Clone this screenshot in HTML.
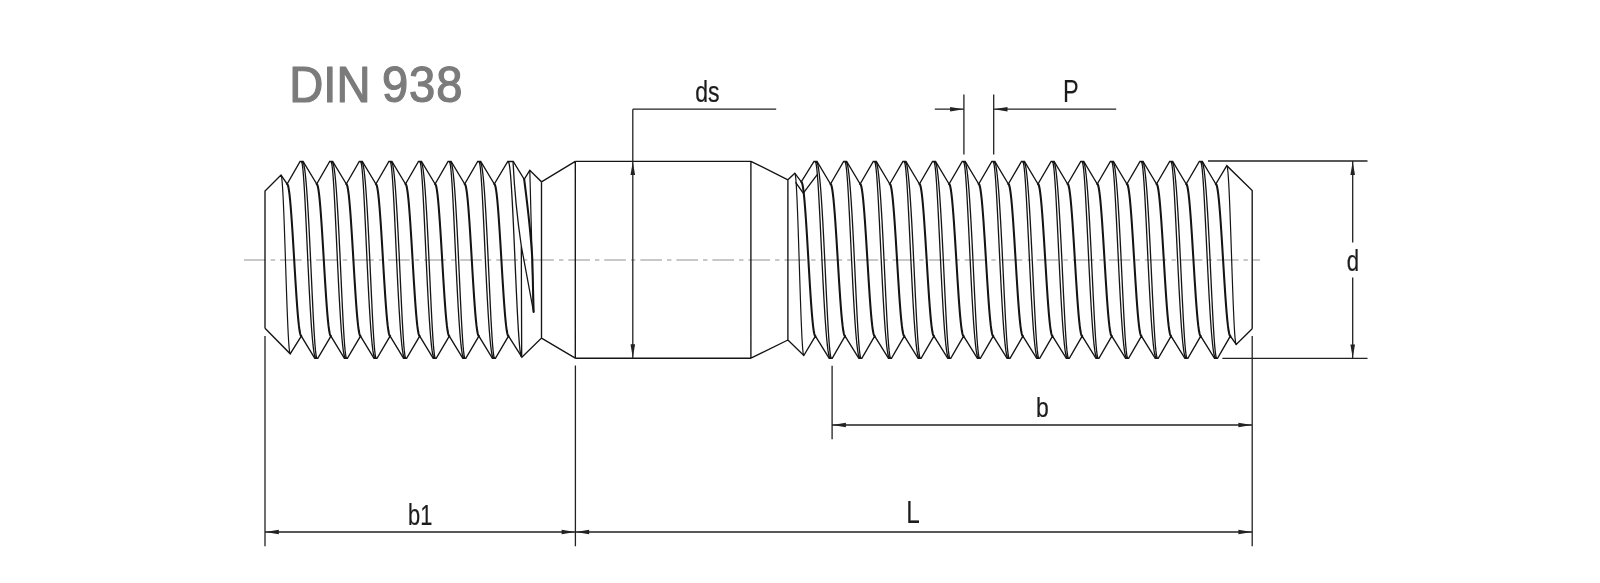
<!DOCTYPE html>
<html lang="en"><head><meta charset="utf-8"><title>DIN 938</title>
<style>
html,body{margin:0;padding:0;background:#fff;}
body{width:1600px;height:583px;overflow:hidden;}
svg{display:block;font-family:"Liberation Sans",sans-serif;will-change:transform;}
</style></head><body>
<svg width="1600" height="583" viewBox="0 0 1600 583">
<rect width="1600" height="583" fill="#ffffff"/>
<path d="M244 260.0 H1259.9" stroke="#b6b6b6" stroke-width="1.5" fill="none" stroke-dasharray="21.7 5 4.4 4.93"/>
<g fill="none" stroke="#141414" stroke-linejoin="miter" stroke-linecap="butt">
<path stroke-width="1.3" d="M301.40 161.80 L301.90 162.64 L302.39 165.14 L302.89 169.27 L303.40 174.95 L303.91 182.08 L304.43 190.55 L304.97 200.20 L305.51 210.88 L306.06 222.39 L306.63 234.55 L307.21 247.14 L307.80 259.95 L308.41 272.76 L309.03 285.35 L309.66 297.51 L310.31 309.02 L310.97 319.70 L311.63 329.35 L312.31 337.82 L313.00 344.95 L313.69 350.63 L314.39 354.76 L315.10 357.26 L315.80 358.10 M302.60 161.80 L303.30 162.64 L304.01 165.14 L304.71 169.27 L305.40 174.95 L306.09 182.08 L306.77 190.55 L307.43 200.20 L308.09 210.88 L308.74 222.39 L309.37 234.55 L309.99 247.14 L310.60 259.95 L311.19 272.76 L311.77 285.35 L312.34 297.51 L312.89 309.02 L313.43 319.70 L313.97 329.35 L314.49 337.82 L315.00 344.95 L315.51 350.63 L316.01 354.76 L316.50 357.26 L317.00 358.10 M331.00 161.80 L331.50 162.64 L331.99 165.14 L332.49 169.27 L333.00 174.95 L333.51 182.08 L334.03 190.55 L334.57 200.20 L335.11 210.88 L335.66 222.39 L336.23 234.55 L336.81 247.14 L337.40 259.95 L338.01 272.76 L338.63 285.35 L339.26 297.51 L339.91 309.02 L340.57 319.70 L341.23 329.35 L341.91 337.82 L342.60 344.95 L343.29 350.63 L343.99 354.76 L344.70 357.26 L345.40 358.10 M332.20 161.80 L332.90 162.64 L333.61 165.14 L334.31 169.27 L335.00 174.95 L335.69 182.08 L336.37 190.55 L337.03 200.20 L337.69 210.88 L338.34 222.39 L338.97 234.55 L339.59 247.14 L340.20 259.95 L340.79 272.76 L341.37 285.35 L341.94 297.51 L342.49 309.02 L343.03 319.70 L343.57 329.35 L344.09 337.82 L344.60 344.95 L345.11 350.63 L345.61 354.76 L346.10 357.26 L346.60 358.10 M360.60 161.80 L361.10 162.64 L361.59 165.14 L362.09 169.27 L362.60 174.95 L363.11 182.08 L363.63 190.55 L364.17 200.20 L364.71 210.88 L365.26 222.39 L365.83 234.55 L366.41 247.14 L367.00 259.95 L367.61 272.76 L368.23 285.35 L368.86 297.51 L369.51 309.02 L370.17 319.70 L370.83 329.35 L371.51 337.82 L372.20 344.95 L372.89 350.63 L373.59 354.76 L374.30 357.26 L375.00 358.10 M361.80 161.80 L362.50 162.64 L363.21 165.14 L363.91 169.27 L364.60 174.95 L365.29 182.08 L365.97 190.55 L366.63 200.20 L367.29 210.88 L367.94 222.39 L368.57 234.55 L369.19 247.14 L369.80 259.95 L370.39 272.76 L370.97 285.35 L371.54 297.51 L372.09 309.02 L372.63 319.70 L373.17 329.35 L373.69 337.82 L374.20 344.95 L374.71 350.63 L375.21 354.76 L375.70 357.26 L376.20 358.10 M390.20 161.80 L390.70 162.64 L391.19 165.14 L391.69 169.27 L392.20 174.95 L392.71 182.08 L393.23 190.55 L393.77 200.20 L394.31 210.88 L394.86 222.39 L395.43 234.55 L396.01 247.14 L396.60 259.95 L397.21 272.76 L397.83 285.35 L398.46 297.51 L399.11 309.02 L399.77 319.70 L400.43 329.35 L401.11 337.82 L401.80 344.95 L402.49 350.63 L403.19 354.76 L403.90 357.26 L404.60 358.10 M391.40 161.80 L392.10 162.64 L392.81 165.14 L393.51 169.27 L394.20 174.95 L394.89 182.08 L395.57 190.55 L396.23 200.20 L396.89 210.88 L397.54 222.39 L398.17 234.55 L398.79 247.14 L399.40 259.95 L399.99 272.76 L400.57 285.35 L401.14 297.51 L401.69 309.02 L402.23 319.70 L402.77 329.35 L403.29 337.82 L403.80 344.95 L404.31 350.63 L404.81 354.76 L405.30 357.26 L405.80 358.10 M419.80 161.80 L420.30 162.64 L420.79 165.14 L421.29 169.27 L421.80 174.95 L422.31 182.08 L422.83 190.55 L423.37 200.20 L423.91 210.88 L424.46 222.39 L425.03 234.55 L425.61 247.14 L426.20 259.95 L426.81 272.76 L427.43 285.35 L428.06 297.51 L428.71 309.02 L429.37 319.70 L430.03 329.35 L430.71 337.82 L431.40 344.95 L432.09 350.63 L432.79 354.76 L433.50 357.26 L434.20 358.10 M421.00 161.80 L421.70 162.64 L422.41 165.14 L423.11 169.27 L423.80 174.95 L424.49 182.08 L425.17 190.55 L425.83 200.20 L426.49 210.88 L427.14 222.39 L427.77 234.55 L428.39 247.14 L429.00 259.95 L429.59 272.76 L430.17 285.35 L430.74 297.51 L431.29 309.02 L431.83 319.70 L432.37 329.35 L432.89 337.82 L433.40 344.95 L433.91 350.63 L434.41 354.76 L434.90 357.26 L435.40 358.10 M449.40 161.80 L449.90 162.64 L450.39 165.14 L450.89 169.27 L451.40 174.95 L451.91 182.08 L452.43 190.55 L452.97 200.20 L453.51 210.88 L454.06 222.39 L454.63 234.55 L455.21 247.14 L455.80 259.95 L456.41 272.76 L457.03 285.35 L457.66 297.51 L458.31 309.02 L458.97 319.70 L459.63 329.35 L460.31 337.82 L461.00 344.95 L461.69 350.63 L462.39 354.76 L463.10 357.26 L463.80 358.10 M450.60 161.80 L451.30 162.64 L452.01 165.14 L452.71 169.27 L453.40 174.95 L454.09 182.08 L454.77 190.55 L455.43 200.20 L456.09 210.88 L456.74 222.39 L457.37 234.55 L457.99 247.14 L458.60 259.95 L459.19 272.76 L459.77 285.35 L460.34 297.51 L460.89 309.02 L461.43 319.70 L461.97 329.35 L462.49 337.82 L463.00 344.95 L463.51 350.63 L464.01 354.76 L464.50 357.26 L465.00 358.10 M479.00 161.80 L479.50 162.64 L479.99 165.14 L480.49 169.27 L481.00 174.95 L481.51 182.08 L482.03 190.55 L482.57 200.20 L483.11 210.88 L483.66 222.39 L484.23 234.55 L484.81 247.14 L485.40 259.95 L486.01 272.76 L486.63 285.35 L487.26 297.51 L487.91 309.02 L488.57 319.70 L489.23 329.35 L489.91 337.82 L490.60 344.95 L491.29 350.63 L491.99 354.76 L492.70 357.26 L493.40 358.10 M480.20 161.80 L480.90 162.64 L481.61 165.14 L482.31 169.27 L483.00 174.95 L483.69 182.08 L484.37 190.55 L485.03 200.20 L485.69 210.88 L486.34 222.39 L486.97 234.55 L487.59 247.14 L488.20 259.95 L488.79 272.76 L489.37 285.35 L489.94 297.51 L490.49 309.02 L491.03 319.70 L491.57 329.35 L492.09 337.82 L492.60 344.95 L493.11 350.63 L493.61 354.76 L494.10 357.26 L494.60 358.10 M508.30 161.80 L508.85 162.63 L509.41 165.13 L509.96 169.23 L510.52 174.88 L511.07 181.97 L511.62 190.39 L512.18 199.98 L512.73 210.60 L513.29 222.05 L513.84 234.14 L514.40 246.66 L514.95 259.40 L515.50 272.14 L516.06 284.66 L516.61 296.75 L517.17 308.20 L517.72 318.82 L518.27 328.41 L518.83 336.83 L519.38 343.92 L519.94 349.57 L520.49 353.67 L521.05 356.17 L521.60 357.00 M521.3 246 L521.7 357 M513.0 161.5 Q515.2 205 521.3 246 L533.6 312 M815.30 161.80 L815.82 162.64 L816.33 165.14 L816.86 169.27 L817.38 174.95 L817.92 182.08 L818.46 190.55 L819.01 200.20 L819.57 210.88 L820.15 222.39 L820.74 234.55 L821.34 247.14 L821.95 259.95 L822.58 272.76 L823.22 285.35 L823.87 297.51 L824.54 309.02 L825.22 319.70 L825.91 329.35 L826.61 337.82 L827.32 344.95 L828.03 350.63 L828.75 354.76 L829.47 357.26 L830.20 358.10 M816.50 161.80 L817.23 162.64 L817.95 165.14 L818.67 169.27 L819.38 174.95 L820.09 182.08 L820.79 190.55 L821.48 200.20 L822.16 210.88 L822.83 222.39 L823.48 234.55 L824.12 247.14 L824.75 259.95 L825.36 272.76 L825.96 285.35 L826.55 297.51 L827.13 309.02 L827.69 319.70 L828.24 329.35 L828.78 337.82 L829.32 344.95 L829.84 350.63 L830.37 354.76 L830.88 357.26 L831.40 358.10 M844.94 161.80 L845.46 162.64 L845.97 165.14 L846.50 169.27 L847.02 174.95 L847.56 182.08 L848.10 190.55 L848.65 200.20 L849.21 210.88 L849.79 222.39 L850.38 234.55 L850.98 247.14 L851.59 259.95 L852.22 272.76 L852.86 285.35 L853.51 297.51 L854.18 309.02 L854.86 319.70 L855.55 329.35 L856.25 337.82 L856.96 344.95 L857.67 350.63 L858.39 354.76 L859.11 357.26 L859.84 358.10 M846.14 161.80 L846.87 162.64 L847.59 165.14 L848.31 169.27 L849.02 174.95 L849.73 182.08 L850.43 190.55 L851.12 200.20 L851.80 210.88 L852.47 222.39 L853.12 234.55 L853.76 247.14 L854.39 259.95 L855.00 272.76 L855.60 285.35 L856.19 297.51 L856.77 309.02 L857.33 319.70 L857.88 329.35 L858.42 337.82 L858.96 344.95 L859.48 350.63 L860.01 354.76 L860.52 357.26 L861.04 358.10 M874.58 161.80 L875.10 162.64 L875.61 165.14 L876.14 169.27 L876.66 174.95 L877.20 182.08 L877.74 190.55 L878.29 200.20 L878.85 210.88 L879.43 222.39 L880.02 234.55 L880.62 247.14 L881.23 259.95 L881.86 272.76 L882.50 285.35 L883.15 297.51 L883.82 309.02 L884.50 319.70 L885.19 329.35 L885.89 337.82 L886.60 344.95 L887.31 350.63 L888.03 354.76 L888.75 357.26 L889.48 358.10 M875.78 161.80 L876.51 162.64 L877.23 165.14 L877.95 169.27 L878.66 174.95 L879.37 182.08 L880.07 190.55 L880.76 200.20 L881.44 210.88 L882.11 222.39 L882.76 234.55 L883.40 247.14 L884.03 259.95 L884.64 272.76 L885.24 285.35 L885.83 297.51 L886.41 309.02 L886.97 319.70 L887.52 329.35 L888.06 337.82 L888.60 344.95 L889.12 350.63 L889.65 354.76 L890.16 357.26 L890.68 358.10 M904.22 161.80 L904.74 162.64 L905.25 165.14 L905.78 169.27 L906.30 174.95 L906.84 182.08 L907.38 190.55 L907.93 200.20 L908.49 210.88 L909.07 222.39 L909.66 234.55 L910.26 247.14 L910.87 259.95 L911.50 272.76 L912.14 285.35 L912.79 297.51 L913.46 309.02 L914.14 319.70 L914.83 329.35 L915.53 337.82 L916.24 344.95 L916.95 350.63 L917.67 354.76 L918.39 357.26 L919.12 358.10 M905.42 161.80 L906.15 162.64 L906.87 165.14 L907.59 169.27 L908.30 174.95 L909.01 182.08 L909.71 190.55 L910.40 200.20 L911.08 210.88 L911.75 222.39 L912.40 234.55 L913.04 247.14 L913.67 259.95 L914.28 272.76 L914.88 285.35 L915.47 297.51 L916.05 309.02 L916.61 319.70 L917.16 329.35 L917.70 337.82 L918.24 344.95 L918.76 350.63 L919.29 354.76 L919.80 357.26 L920.32 358.10 M933.86 161.80 L934.38 162.64 L934.89 165.14 L935.42 169.27 L935.94 174.95 L936.48 182.08 L937.02 190.55 L937.57 200.20 L938.13 210.88 L938.71 222.39 L939.30 234.55 L939.90 247.14 L940.51 259.95 L941.14 272.76 L941.78 285.35 L942.43 297.51 L943.10 309.02 L943.78 319.70 L944.47 329.35 L945.17 337.82 L945.88 344.95 L946.59 350.63 L947.31 354.76 L948.03 357.26 L948.76 358.10 M935.06 161.80 L935.79 162.64 L936.51 165.14 L937.23 169.27 L937.94 174.95 L938.65 182.08 L939.35 190.55 L940.04 200.20 L940.72 210.88 L941.39 222.39 L942.04 234.55 L942.68 247.14 L943.31 259.95 L943.92 272.76 L944.52 285.35 L945.11 297.51 L945.69 309.02 L946.25 319.70 L946.80 329.35 L947.34 337.82 L947.88 344.95 L948.40 350.63 L948.93 354.76 L949.44 357.26 L949.96 358.10 M963.50 161.80 L964.02 162.64 L964.53 165.14 L965.06 169.27 L965.58 174.95 L966.12 182.08 L966.66 190.55 L967.21 200.20 L967.77 210.88 L968.35 222.39 L968.94 234.55 L969.54 247.14 L970.15 259.95 L970.78 272.76 L971.42 285.35 L972.07 297.51 L972.74 309.02 L973.42 319.70 L974.11 329.35 L974.81 337.82 L975.52 344.95 L976.23 350.63 L976.95 354.76 L977.67 357.26 L978.40 358.10 M964.70 161.80 L965.43 162.64 L966.15 165.14 L966.87 169.27 L967.58 174.95 L968.29 182.08 L968.99 190.55 L969.68 200.20 L970.36 210.88 L971.03 222.39 L971.68 234.55 L972.32 247.14 L972.95 259.95 L973.56 272.76 L974.16 285.35 L974.75 297.51 L975.33 309.02 L975.89 319.70 L976.44 329.35 L976.98 337.82 L977.52 344.95 L978.04 350.63 L978.57 354.76 L979.08 357.26 L979.60 358.10 M993.14 161.80 L993.66 162.64 L994.17 165.14 L994.70 169.27 L995.22 174.95 L995.76 182.08 L996.30 190.55 L996.85 200.20 L997.41 210.88 L997.99 222.39 L998.58 234.55 L999.18 247.14 L999.79 259.95 L1000.42 272.76 L1001.06 285.35 L1001.71 297.51 L1002.38 309.02 L1003.06 319.70 L1003.75 329.35 L1004.45 337.82 L1005.16 344.95 L1005.87 350.63 L1006.59 354.76 L1007.31 357.26 L1008.04 358.10 M994.34 161.80 L995.07 162.64 L995.79 165.14 L996.51 169.27 L997.22 174.95 L997.93 182.08 L998.63 190.55 L999.32 200.20 L1000.00 210.88 L1000.67 222.39 L1001.32 234.55 L1001.96 247.14 L1002.59 259.95 L1003.20 272.76 L1003.80 285.35 L1004.39 297.51 L1004.97 309.02 L1005.53 319.70 L1006.08 329.35 L1006.62 337.82 L1007.16 344.95 L1007.68 350.63 L1008.21 354.76 L1008.72 357.26 L1009.24 358.10 M1022.78 161.80 L1023.30 162.64 L1023.81 165.14 L1024.34 169.27 L1024.86 174.95 L1025.40 182.08 L1025.94 190.55 L1026.49 200.20 L1027.05 210.88 L1027.63 222.39 L1028.22 234.55 L1028.82 247.14 L1029.43 259.95 L1030.06 272.76 L1030.70 285.35 L1031.35 297.51 L1032.02 309.02 L1032.70 319.70 L1033.39 329.35 L1034.09 337.82 L1034.80 344.95 L1035.51 350.63 L1036.23 354.76 L1036.95 357.26 L1037.68 358.10 M1023.98 161.80 L1024.71 162.64 L1025.43 165.14 L1026.15 169.27 L1026.86 174.95 L1027.57 182.08 L1028.27 190.55 L1028.96 200.20 L1029.64 210.88 L1030.31 222.39 L1030.96 234.55 L1031.60 247.14 L1032.23 259.95 L1032.84 272.76 L1033.44 285.35 L1034.03 297.51 L1034.61 309.02 L1035.17 319.70 L1035.72 329.35 L1036.26 337.82 L1036.80 344.95 L1037.32 350.63 L1037.85 354.76 L1038.36 357.26 L1038.88 358.10 M1052.42 161.80 L1052.94 162.64 L1053.45 165.14 L1053.98 169.27 L1054.50 174.95 L1055.04 182.08 L1055.58 190.55 L1056.13 200.20 L1056.69 210.88 L1057.27 222.39 L1057.86 234.55 L1058.46 247.14 L1059.07 259.95 L1059.70 272.76 L1060.34 285.35 L1060.99 297.51 L1061.66 309.02 L1062.34 319.70 L1063.03 329.35 L1063.73 337.82 L1064.44 344.95 L1065.15 350.63 L1065.87 354.76 L1066.59 357.26 L1067.32 358.10 M1053.62 161.80 L1054.35 162.64 L1055.07 165.14 L1055.79 169.27 L1056.50 174.95 L1057.21 182.08 L1057.91 190.55 L1058.60 200.20 L1059.28 210.88 L1059.95 222.39 L1060.60 234.55 L1061.24 247.14 L1061.87 259.95 L1062.48 272.76 L1063.08 285.35 L1063.67 297.51 L1064.25 309.02 L1064.81 319.70 L1065.36 329.35 L1065.90 337.82 L1066.44 344.95 L1066.96 350.63 L1067.49 354.76 L1068.00 357.26 L1068.52 358.10 M1082.06 161.80 L1082.58 162.64 L1083.09 165.14 L1083.62 169.27 L1084.14 174.95 L1084.68 182.08 L1085.22 190.55 L1085.77 200.20 L1086.33 210.88 L1086.91 222.39 L1087.50 234.55 L1088.10 247.14 L1088.71 259.95 L1089.34 272.76 L1089.98 285.35 L1090.63 297.51 L1091.30 309.02 L1091.98 319.70 L1092.67 329.35 L1093.37 337.82 L1094.08 344.95 L1094.79 350.63 L1095.51 354.76 L1096.23 357.26 L1096.96 358.10 M1083.26 161.80 L1083.99 162.64 L1084.71 165.14 L1085.43 169.27 L1086.14 174.95 L1086.85 182.08 L1087.55 190.55 L1088.24 200.20 L1088.92 210.88 L1089.59 222.39 L1090.24 234.55 L1090.88 247.14 L1091.51 259.95 L1092.12 272.76 L1092.72 285.35 L1093.31 297.51 L1093.89 309.02 L1094.45 319.70 L1095.00 329.35 L1095.54 337.82 L1096.08 344.95 L1096.60 350.63 L1097.13 354.76 L1097.64 357.26 L1098.16 358.10 M1111.70 161.80 L1112.22 162.64 L1112.73 165.14 L1113.26 169.27 L1113.78 174.95 L1114.32 182.08 L1114.86 190.55 L1115.41 200.20 L1115.97 210.88 L1116.55 222.39 L1117.14 234.55 L1117.74 247.14 L1118.35 259.95 L1118.98 272.76 L1119.62 285.35 L1120.27 297.51 L1120.94 309.02 L1121.62 319.70 L1122.31 329.35 L1123.01 337.82 L1123.72 344.95 L1124.43 350.63 L1125.15 354.76 L1125.87 357.26 L1126.60 358.10 M1112.90 161.80 L1113.63 162.64 L1114.35 165.14 L1115.07 169.27 L1115.78 174.95 L1116.49 182.08 L1117.19 190.55 L1117.88 200.20 L1118.56 210.88 L1119.23 222.39 L1119.88 234.55 L1120.52 247.14 L1121.15 259.95 L1121.76 272.76 L1122.36 285.35 L1122.95 297.51 L1123.53 309.02 L1124.09 319.70 L1124.64 329.35 L1125.18 337.82 L1125.72 344.95 L1126.24 350.63 L1126.77 354.76 L1127.28 357.26 L1127.80 358.10 M1141.34 161.80 L1141.86 162.64 L1142.37 165.14 L1142.90 169.27 L1143.42 174.95 L1143.96 182.08 L1144.50 190.55 L1145.05 200.20 L1145.61 210.88 L1146.19 222.39 L1146.78 234.55 L1147.38 247.14 L1147.99 259.95 L1148.62 272.76 L1149.26 285.35 L1149.91 297.51 L1150.58 309.02 L1151.26 319.70 L1151.95 329.35 L1152.65 337.82 L1153.36 344.95 L1154.07 350.63 L1154.79 354.76 L1155.51 357.26 L1156.24 358.10 M1142.54 161.80 L1143.27 162.64 L1143.99 165.14 L1144.71 169.27 L1145.42 174.95 L1146.13 182.08 L1146.83 190.55 L1147.52 200.20 L1148.20 210.88 L1148.87 222.39 L1149.52 234.55 L1150.16 247.14 L1150.79 259.95 L1151.40 272.76 L1152.00 285.35 L1152.59 297.51 L1153.17 309.02 L1153.73 319.70 L1154.28 329.35 L1154.82 337.82 L1155.36 344.95 L1155.88 350.63 L1156.41 354.76 L1156.92 357.26 L1157.44 358.10 M1170.98 161.80 L1171.50 162.64 L1172.01 165.14 L1172.54 169.27 L1173.06 174.95 L1173.60 182.08 L1174.14 190.55 L1174.69 200.20 L1175.25 210.88 L1175.83 222.39 L1176.42 234.55 L1177.02 247.14 L1177.63 259.95 L1178.26 272.76 L1178.90 285.35 L1179.55 297.51 L1180.22 309.02 L1180.90 319.70 L1181.59 329.35 L1182.29 337.82 L1183.00 344.95 L1183.71 350.63 L1184.43 354.76 L1185.15 357.26 L1185.88 358.10 M1172.18 161.80 L1172.91 162.64 L1173.63 165.14 L1174.35 169.27 L1175.06 174.95 L1175.77 182.08 L1176.47 190.55 L1177.16 200.20 L1177.84 210.88 L1178.51 222.39 L1179.16 234.55 L1179.80 247.14 L1180.43 259.95 L1181.04 272.76 L1181.64 285.35 L1182.23 297.51 L1182.81 309.02 L1183.37 319.70 L1183.92 329.35 L1184.46 337.82 L1185.00 344.95 L1185.52 350.63 L1186.05 354.76 L1186.56 357.26 L1187.08 358.10 M1200.62 161.80 L1201.14 162.64 L1201.65 165.14 L1202.18 169.27 L1202.70 174.95 L1203.24 182.08 L1203.78 190.55 L1204.33 200.20 L1204.89 210.88 L1205.47 222.39 L1206.06 234.55 L1206.66 247.14 L1207.27 259.95 L1207.90 272.76 L1208.54 285.35 L1209.19 297.51 L1209.86 309.02 L1210.54 319.70 L1211.23 329.35 L1211.93 337.82 L1212.64 344.95 L1213.35 350.63 L1214.07 354.76 L1214.79 357.26 L1215.52 358.10 M1201.82 161.80 L1202.55 162.64 L1203.27 165.14 L1203.99 169.27 L1204.70 174.95 L1205.41 182.08 L1206.11 190.55 L1206.80 200.20 L1207.48 210.88 L1208.15 222.39 L1208.80 234.55 L1209.44 247.14 L1210.07 259.95 L1210.68 272.76 L1211.28 285.35 L1211.87 297.51 L1212.45 309.02 L1213.01 319.70 L1213.56 329.35 L1214.10 337.82 L1214.64 344.95 L1215.16 350.63 L1215.69 354.76 L1216.20 357.26 L1216.72 358.10"/>
<path stroke-width="1.2" d="M281.00 175.10 L281.38 175.86 L281.77 178.14 L282.15 181.90 L282.53 187.07 L282.92 193.56 L283.30 201.27 L283.68 210.06 L284.07 219.77 L284.45 230.26 L284.83 241.32 L285.22 252.79 L285.60 264.45 L285.98 276.11 L286.37 287.58 L286.75 298.64 L287.13 309.12 L287.52 318.84 L287.90 327.63 L288.28 335.34 L288.67 341.83 L289.05 347.00 L289.43 350.76 L289.82 353.04 L290.20 353.80 M529.8 170.3 L532.1 258 L533.6 312 M794.80 173.20 L795.17 173.98 L795.55 176.31 L795.92 180.14 L796.30 185.41 L796.67 192.04 L797.05 199.90 L797.42 208.86 L797.80 218.78 L798.17 229.47 L798.55 240.76 L798.92 252.45 L799.30 264.35 L799.67 276.25 L800.05 287.94 L800.42 299.23 L800.80 309.93 L801.17 319.84 L801.55 328.80 L801.92 336.66 L802.30 343.29 L802.67 348.56 L803.05 352.39 L803.42 354.72 L803.80 355.50 M1226.80 165.70 L1227.19 166.46 L1227.58 168.74 L1227.97 172.50 L1228.37 177.67 L1228.76 184.16 L1229.15 191.87 L1229.54 200.66 L1229.93 210.37 L1230.33 220.86 L1230.72 231.92 L1231.11 243.39 L1231.50 255.05 L1231.89 266.71 L1232.28 278.18 L1232.67 289.24 L1233.07 299.72 L1233.46 309.44 L1233.85 318.23 L1234.24 325.94 L1234.63 332.43 L1235.03 337.60 L1235.42 341.36 L1235.81 343.64 L1236.20 344.40"/>
<path stroke-width="2.05" stroke-linecap="round" d="M287.10 184.00 L287.69 184.65 L288.28 186.59 L288.88 189.79 L289.47 194.19 L290.06 199.72 L290.65 206.27 L291.24 213.75 L291.83 222.03 L292.43 230.95 L293.02 240.37 L293.61 250.12 L294.20 260.05 L294.79 269.98 L295.38 279.73 L295.98 289.15 L296.57 298.07 L297.16 306.35 L297.75 313.83 L298.34 320.38 L298.93 325.91 L299.53 330.31 L300.12 333.51 L300.71 335.45 L301.30 336.10 M316.70 184.00 L317.29 184.65 L317.88 186.59 L318.48 189.79 L319.07 194.19 L319.66 199.72 L320.25 206.27 L320.84 213.75 L321.43 222.03 L322.03 230.95 L322.62 240.37 L323.21 250.12 L323.80 260.05 L324.39 269.98 L324.98 279.73 L325.58 289.15 L326.17 298.07 L326.76 306.35 L327.35 313.83 L327.94 320.38 L328.53 325.91 L329.13 330.31 L329.72 333.51 L330.31 335.45 L330.90 336.10 M346.30 184.00 L346.89 184.65 L347.48 186.59 L348.07 189.79 L348.67 194.19 L349.26 199.72 L349.85 206.27 L350.44 213.75 L351.03 222.03 L351.62 230.95 L352.22 240.37 L352.81 250.12 L353.40 260.05 L353.99 269.98 L354.58 279.73 L355.18 289.15 L355.77 298.07 L356.36 306.35 L356.95 313.83 L357.54 320.38 L358.13 325.91 L358.73 330.31 L359.32 333.51 L359.91 335.45 L360.50 336.10 M375.90 184.00 L376.49 184.65 L377.08 186.59 L377.68 189.79 L378.27 194.19 L378.86 199.72 L379.45 206.27 L380.04 213.75 L380.63 222.03 L381.23 230.95 L381.82 240.37 L382.41 250.12 L383.00 260.05 L383.59 269.98 L384.18 279.73 L384.78 289.15 L385.37 298.07 L385.96 306.35 L386.55 313.83 L387.14 320.38 L387.73 325.91 L388.33 330.31 L388.92 333.51 L389.51 335.45 L390.10 336.10 M405.50 184.00 L406.09 184.65 L406.68 186.59 L407.28 189.79 L407.87 194.19 L408.46 199.72 L409.05 206.27 L409.64 213.75 L410.23 222.03 L410.82 230.95 L411.42 240.37 L412.01 250.12 L412.60 260.05 L413.19 269.98 L413.78 279.73 L414.38 289.15 L414.97 298.07 L415.56 306.35 L416.15 313.83 L416.74 320.38 L417.33 325.91 L417.93 330.31 L418.52 333.51 L419.11 335.45 L419.70 336.10 M435.10 184.00 L435.69 184.65 L436.28 186.59 L436.88 189.79 L437.47 194.19 L438.06 199.72 L438.65 206.27 L439.24 213.75 L439.83 222.03 L440.43 230.95 L441.02 240.37 L441.61 250.12 L442.20 260.05 L442.79 269.98 L443.38 279.73 L443.98 289.15 L444.57 298.07 L445.16 306.35 L445.75 313.83 L446.34 320.38 L446.93 325.91 L447.53 330.31 L448.12 333.51 L448.71 335.45 L449.30 336.10 M464.70 184.00 L465.29 184.65 L465.88 186.59 L466.48 189.79 L467.07 194.19 L467.66 199.72 L468.25 206.27 L468.84 213.75 L469.43 222.03 L470.03 230.95 L470.62 240.37 L471.21 250.12 L471.80 260.05 L472.39 269.98 L472.98 279.73 L473.58 289.15 L474.17 298.07 L474.76 306.35 L475.35 313.83 L475.94 320.38 L476.53 325.91 L477.13 330.31 L477.72 333.51 L478.31 335.45 L478.90 336.10 M494.30 184.00 L494.89 184.65 L495.48 186.59 L496.08 189.79 L496.67 194.19 L497.26 199.72 L497.85 206.27 L498.44 213.75 L499.03 222.03 L499.63 230.95 L500.22 240.37 L500.81 250.12 L501.40 260.05 L501.99 269.98 L502.58 279.73 L503.18 289.15 L503.77 298.07 L504.36 306.35 L504.95 313.83 L505.54 320.38 L506.13 325.91 L506.73 330.31 L507.32 333.51 L507.91 335.45 L508.50 336.10 M524.2 179.3 C527.5 205 531 235 532.3 259 L533.6 312 M801.30 181.90 L801.89 182.56 L802.47 184.53 L803.06 187.77 L803.65 192.23 L804.24 197.83 L804.82 204.48 L805.41 212.06 L806.00 220.45 L806.59 229.50 L807.17 239.05 L807.76 248.94 L808.35 259.00 L808.94 269.06 L809.52 278.95 L810.11 288.50 L810.70 297.55 L811.29 305.94 L811.88 313.52 L812.46 320.17 L813.05 325.77 L813.64 330.23 L814.23 333.47 L814.81 335.44 L815.40 336.10 M830.50 184.00 L831.11 184.65 L831.71 186.59 L832.32 189.79 L832.92 194.19 L833.53 199.72 L834.13 206.27 L834.74 213.75 L835.35 222.03 L835.95 230.95 L836.56 240.37 L837.16 250.12 L837.77 260.05 L838.38 269.98 L838.98 279.73 L839.59 289.15 L840.19 298.07 L840.80 306.35 L841.40 313.83 L842.01 320.38 L842.62 325.91 L843.22 330.31 L843.83 333.51 L844.43 335.45 L845.04 336.10 M860.14 184.00 L860.75 184.65 L861.35 186.59 L861.96 189.79 L862.56 194.19 L863.17 199.72 L863.77 206.27 L864.38 213.75 L864.99 222.03 L865.59 230.95 L866.20 240.37 L866.80 250.12 L867.41 260.05 L868.02 269.98 L868.62 279.73 L869.23 289.15 L869.83 298.07 L870.44 306.35 L871.04 313.83 L871.65 320.38 L872.26 325.91 L872.86 330.31 L873.47 333.51 L874.07 335.45 L874.68 336.10 M889.78 184.00 L890.39 184.65 L890.99 186.59 L891.60 189.79 L892.20 194.19 L892.81 199.72 L893.41 206.27 L894.02 213.75 L894.63 222.03 L895.23 230.95 L895.84 240.37 L896.44 250.12 L897.05 260.05 L897.66 269.98 L898.26 279.73 L898.87 289.15 L899.47 298.07 L900.08 306.35 L900.68 313.83 L901.29 320.38 L901.90 325.91 L902.50 330.31 L903.11 333.51 L903.71 335.45 L904.32 336.10 M919.42 184.00 L920.03 184.65 L920.63 186.59 L921.24 189.79 L921.84 194.19 L922.45 199.72 L923.05 206.27 L923.66 213.75 L924.27 222.03 L924.87 230.95 L925.48 240.37 L926.08 250.12 L926.69 260.05 L927.30 269.98 L927.90 279.73 L928.51 289.15 L929.11 298.07 L929.72 306.35 L930.33 313.83 L930.93 320.38 L931.54 325.91 L932.14 330.31 L932.75 333.51 L933.35 335.45 L933.96 336.10 M949.06 184.00 L949.67 184.65 L950.27 186.59 L950.88 189.79 L951.48 194.19 L952.09 199.72 L952.69 206.27 L953.30 213.75 L953.91 222.03 L954.51 230.95 L955.12 240.37 L955.72 250.12 L956.33 260.05 L956.94 269.98 L957.54 279.73 L958.15 289.15 L958.75 298.07 L959.36 306.35 L959.96 313.83 L960.57 320.38 L961.18 325.91 L961.78 330.31 L962.39 333.51 L962.99 335.45 L963.60 336.10 M978.70 184.00 L979.31 184.65 L979.91 186.59 L980.52 189.79 L981.12 194.19 L981.73 199.72 L982.34 206.27 L982.94 213.75 L983.55 222.03 L984.15 230.95 L984.76 240.37 L985.36 250.12 L985.97 260.05 L986.58 269.98 L987.18 279.73 L987.79 289.15 L988.39 298.07 L989.00 306.35 L989.61 313.83 L990.21 320.38 L990.82 325.91 L991.42 330.31 L992.03 333.51 L992.63 335.45 L993.24 336.10 M1008.34 184.00 L1008.95 184.65 L1009.55 186.59 L1010.16 189.79 L1010.76 194.19 L1011.37 199.72 L1011.98 206.27 L1012.58 213.75 L1013.19 222.03 L1013.79 230.95 L1014.40 240.37 L1015.00 250.12 L1015.61 260.05 L1016.22 269.98 L1016.82 279.73 L1017.43 289.15 L1018.03 298.07 L1018.64 306.35 L1019.25 313.83 L1019.85 320.38 L1020.46 325.91 L1021.06 330.31 L1021.67 333.51 L1022.27 335.45 L1022.88 336.10 M1037.98 184.00 L1038.59 184.65 L1039.19 186.59 L1039.80 189.79 L1040.40 194.19 L1041.01 199.72 L1041.62 206.27 L1042.22 213.75 L1042.83 222.03 L1043.43 230.95 L1044.04 240.37 L1044.64 250.12 L1045.25 260.05 L1045.86 269.98 L1046.46 279.73 L1047.07 289.15 L1047.67 298.07 L1048.28 306.35 L1048.88 313.83 L1049.49 320.38 L1050.10 325.91 L1050.70 330.31 L1051.31 333.51 L1051.91 335.45 L1052.52 336.10 M1067.62 184.00 L1068.23 184.65 L1068.83 186.59 L1069.44 189.79 L1070.04 194.19 L1070.65 199.72 L1071.25 206.27 L1071.86 213.75 L1072.47 222.03 L1073.07 230.95 L1073.68 240.37 L1074.28 250.12 L1074.89 260.05 L1075.50 269.98 L1076.10 279.73 L1076.71 289.15 L1077.31 298.07 L1077.92 306.35 L1078.52 313.83 L1079.13 320.38 L1079.74 325.91 L1080.34 330.31 L1080.95 333.51 L1081.55 335.45 L1082.16 336.10 M1097.26 184.00 L1097.87 184.65 L1098.47 186.59 L1099.08 189.79 L1099.68 194.19 L1100.29 199.72 L1100.89 206.27 L1101.50 213.75 L1102.11 222.03 L1102.71 230.95 L1103.32 240.37 L1103.92 250.12 L1104.53 260.05 L1105.14 269.98 L1105.74 279.73 L1106.35 289.15 L1106.95 298.07 L1107.56 306.35 L1108.16 313.83 L1108.77 320.38 L1109.38 325.91 L1109.98 330.31 L1110.59 333.51 L1111.19 335.45 L1111.80 336.10 M1126.90 184.00 L1127.51 184.65 L1128.11 186.59 L1128.72 189.79 L1129.32 194.19 L1129.93 199.72 L1130.54 206.27 L1131.14 213.75 L1131.75 222.03 L1132.35 230.95 L1132.96 240.37 L1133.56 250.12 L1134.17 260.05 L1134.78 269.98 L1135.38 279.73 L1135.99 289.15 L1136.59 298.07 L1137.20 306.35 L1137.81 313.83 L1138.41 320.38 L1139.02 325.91 L1139.62 330.31 L1140.23 333.51 L1140.83 335.45 L1141.44 336.10 M1156.54 184.00 L1157.15 184.65 L1157.75 186.59 L1158.36 189.79 L1158.96 194.19 L1159.57 199.72 L1160.17 206.27 L1160.78 213.75 L1161.39 222.03 L1161.99 230.95 L1162.60 240.37 L1163.20 250.12 L1163.81 260.05 L1164.42 269.98 L1165.02 279.73 L1165.63 289.15 L1166.23 298.07 L1166.84 306.35 L1167.44 313.83 L1168.05 320.38 L1168.66 325.91 L1169.26 330.31 L1169.87 333.51 L1170.47 335.45 L1171.08 336.10 M1186.18 184.00 L1186.79 184.65 L1187.39 186.59 L1188.00 189.79 L1188.60 194.19 L1189.21 199.72 L1189.82 206.27 L1190.42 213.75 L1191.03 222.03 L1191.63 230.95 L1192.24 240.37 L1192.84 250.12 L1193.45 260.05 L1194.06 269.98 L1194.66 279.73 L1195.27 289.15 L1195.87 298.07 L1196.48 306.35 L1197.09 313.83 L1197.69 320.38 L1198.30 325.91 L1198.90 330.31 L1199.51 333.51 L1200.11 335.45 L1200.72 336.10 M1215.82 184.00 L1216.43 184.65 L1217.03 186.59 L1217.64 189.79 L1218.24 194.19 L1218.85 199.72 L1219.45 206.27 L1220.06 213.75 L1220.67 222.03 L1221.27 230.95 L1221.88 240.37 L1222.48 250.12 L1223.09 260.05 L1223.70 269.98 L1224.30 279.73 L1224.91 289.15 L1225.51 298.07 L1226.12 306.35 L1226.73 313.83 L1227.33 320.38 L1227.94 325.91 L1228.54 330.31 L1229.15 333.51 L1229.75 335.45 L1230.36 336.10"/>
<path stroke-width="1.35" d="M265.00 328.20 L265.00 191.00 L281.00 175.10 L287.10 184.00 L300.10 161.50 L303.10 161.50 L316.70 184.00 L329.70 161.50 L332.70 161.50 L346.30 184.00 L359.30 161.50 L362.30 161.50 L375.90 184.00 L388.90 161.50 L391.90 161.50 L405.50 184.00 L418.50 161.50 L421.50 161.50 L435.10 184.00 L448.10 161.50 L451.10 161.50 L464.70 184.00 L477.70 161.50 L480.70 161.50 L494.30 184.00 L507.80 161.50 L513.20 161.50 L524.20 179.30 L529.80 170.30 L541.50 181.80 L575.30 161.30 M265.00 328.20 L290.20 353.80 L301.30 336.10 L314.80 358.40 L317.80 358.40 L330.90 336.10 L344.40 358.40 L347.40 358.40 L360.50 336.10 L374.00 358.40 L377.00 358.40 L390.10 336.10 L403.60 358.40 L406.60 358.40 L419.70 336.10 L433.20 358.40 L436.20 358.40 L449.30 336.10 L462.80 358.40 L465.80 358.40 L478.90 336.10 L492.40 358.40 L495.40 358.40 L508.50 336.10 L521.90 357.20 L541.50 338.10 L575.30 358.20 M541.5 181.8 V338.1 M575.3 161.3 V358.2 M575.3 161.3 H750.9 M575.3 358.2 H750.9 M750.9 161.3 V358.2 M750.9 161.3 L787.9 179.8 M750.9 358.2 L787.9 340 M787.9 179.8 V340 M787.90 179.80 L794.80 173.20 L801.30 181.90 L814.00 161.50 L817.00 161.50 L830.50 184.00 L843.64 161.50 L846.64 161.50 L860.14 184.00 L873.28 161.50 L876.28 161.50 L889.78 184.00 L902.92 161.50 L905.92 161.50 L919.42 184.00 L932.56 161.50 L935.56 161.50 L949.06 184.00 L962.20 161.50 L965.20 161.50 L978.70 184.00 L991.84 161.50 L994.84 161.50 L1008.34 184.00 L1021.48 161.50 L1024.48 161.50 L1037.98 184.00 L1051.12 161.50 L1054.12 161.50 L1067.62 184.00 L1080.76 161.50 L1083.76 161.50 L1097.26 184.00 L1110.40 161.50 L1113.40 161.50 L1126.90 184.00 L1140.04 161.50 L1143.04 161.50 L1156.54 184.00 L1169.68 161.50 L1172.68 161.50 L1186.18 184.00 L1199.32 161.50 L1202.32 161.50 L1215.82 184.00 L1226.80 165.70 L1252.20 190.50 L1252.20 328.80 M787.90 340.00 L803.80 355.50 L815.40 336.10 L829.20 358.40 L832.20 358.40 L845.04 336.10 L858.84 358.40 L861.84 358.40 L874.68 336.10 L888.48 358.40 L891.48 358.40 L904.32 336.10 L918.12 358.40 L921.12 358.40 L933.96 336.10 L947.76 358.40 L950.76 358.40 L963.60 336.10 L977.40 358.40 L980.40 358.40 L993.24 336.10 L1007.04 358.40 L1010.04 358.40 L1022.88 336.10 L1036.68 358.40 L1039.68 358.40 L1052.52 336.10 L1066.32 358.40 L1069.32 358.40 L1082.16 336.10 L1095.96 358.40 L1098.96 358.40 L1111.80 336.10 L1125.60 358.40 L1128.60 358.40 L1141.44 336.10 L1155.24 358.40 L1158.24 358.40 L1171.08 336.10 L1184.88 358.40 L1187.88 358.40 L1200.72 336.10 L1214.52 358.40 L1217.52 358.40 L1230.36 336.10 L1236.20 344.40 L1252.20 328.80 M795.6 182.4 L803.3 193.2 L817.2 174.7"/>
</g>
<path d="M632.8 109.2 H776.2 M632.8 109.2 V358 M963.9 94.4 V154.4 M993.7 94.4 V154.4 M934.8 109.2 H963.9 M993.7 109.2 H1116.2 M1208 161 H1367.5 M1222.4 358.4 H1367.5 M1352.7 161 V242.6 M1352.7 277.5 V358.4 M832.1 365.8 V439.2 M832.1 425 H1252.2 M1252.2 336 V546.3 M265 336 V546.3 M575.4 365.6 V546.3 M265 532 H1252.2" stroke="#222222" stroke-width="1.3" fill="none"/>
<polygon points="632.80,161.60 635.10,175.10 630.50,175.10" fill="#222222"/>
<polygon points="632.80,357.80 630.50,344.30 635.10,344.30" fill="#222222"/>
<polygon points="963.60,109.20 950.10,111.50 950.10,106.90" fill="#222222"/>
<polygon points="994.00,109.20 1007.50,106.90 1007.50,111.50" fill="#222222"/>
<polygon points="1352.70,161.40 1355.00,174.90 1350.40,174.90" fill="#222222"/>
<polygon points="1352.70,358.00 1350.40,344.50 1355.00,344.50" fill="#222222"/>
<polygon points="832.40,425.00 845.90,422.70 845.90,427.30" fill="#222222"/>
<polygon points="1251.90,425.00 1238.40,427.30 1238.40,422.70" fill="#222222"/>
<polygon points="265.30,532.00 278.80,529.70 278.80,534.30" fill="#222222"/>
<polygon points="575.10,532.00 561.60,534.30 561.60,529.70" fill="#222222"/>
<polygon points="575.70,532.00 589.20,529.70 589.20,534.30" fill="#222222"/>
<polygon points="1251.90,532.00 1238.40,534.30 1238.40,529.70" fill="#222222"/>
<text transform="translate(707.3 102.0) scale(0.8 1)" font-size="28.8" text-anchor="middle" fill="#1c1c1c" stroke="#1c1c1c" stroke-width="0.22" font-weight="normal">ds</text>
<text transform="translate(1070.8 102.0) scale(0.755 1)" font-size="31.2" text-anchor="middle" fill="#1c1c1c" stroke="#1c1c1c" stroke-width="0.1" font-weight="normal">P</text>
<text transform="translate(1352.9 270.8) scale(0.775 1)" font-size="28.6" text-anchor="middle" fill="#1c1c1c" stroke="#1c1c1c" stroke-width="0.22" font-weight="normal">d</text>
<text transform="translate(1042.3 417.4) scale(0.81 1)" font-size="28.3" text-anchor="middle" fill="#1c1c1c" stroke="#1c1c1c" stroke-width="0.22" font-weight="normal">b</text>
<text transform="translate(912.9 523.1) scale(0.78 1)" font-size="31.2" text-anchor="middle" fill="#1c1c1c" stroke="#1c1c1c" stroke-width="0.1" font-weight="normal">L</text>
<text transform="translate(420.2 524.6) scale(0.76 1)" font-size="28.8" text-anchor="middle" fill="#1c1c1c" stroke="#1c1c1c" stroke-width="0.22" font-weight="normal">b1</text>
<text transform="translate(289.3 101.6) scale(0.94 1)" font-size="50.2" fill="#7b7b7b" stroke="#7b7b7b" stroke-width="1.25" stroke-linejoin="round">DIN<tspan dx="-2.6" letter-spacing="0.9"> 938</tspan></text>
</svg>
</body></html>
